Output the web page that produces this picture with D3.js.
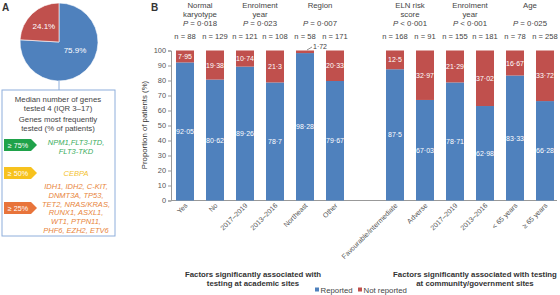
<!DOCTYPE html>
<html>
<head>
<meta charset="utf-8">
<script src="https://cdn.jsdelivr.net/npm/d3@7"></script>
<style>
  body { margin: 0; background: #fff; }
  svg { font-family: "Liberation Sans", Arial, sans-serif; }
</style>
</head>
<body>
<svg width="560" height="295"></svg>
<script>
// panel A
var pieNames = ["Reported", "Not reported"];
var pieValues = [75.9, 24.1];
var boxLines = ["Median number of genes", "tested 4 (IQR 3\u201317)", "Genes most frequently", "tested (% of patients)"];
var tagLabels = ["\u2265 75%", "\u2265 50%", "\u2265 25%"];
var tagGenes = [
  ["NPM1,FLT3-ITD,", "FLT3-TKD"],
  ["CEBPA"],
  ["IDH1, IDH2, C-KIT,", "DNMT3A, TP53,", "TET2, NRAS/KRAS,", "RUNX1, ASXL1,", "WT1, PTPN11,", "PHF6, EZH2, ETV6"]
];

// panel B
var categories = ["Yes", "No", "2017\u20132019", "2013\u20132016", "Northeast", "Other",
  "Favourable/intermediate", "Adverse", "2017\u20132019", "2013\u20132016", "< 65 years", "\u2265 65 years"];
var nValues = [88, 129, 121, 108, 58, 171, 168, 91, 155, 181, 78, 258];
var reported = [92.05, 80.62, 89.26, 78.7, 98.28, 79.67, 87.5, 67.03, 78.71, 62.98, 83.33, 66.28];
var notReported = [7.95, 19.38, 10.74, 21.3, 1.72, 20.33, 12.5, 32.97, 21.29, 37.02, 16.67, 33.72];
var factorTitles = [["Normal", "karyotype"], ["Enrolment", "year"], ["Region"], ["ELN risk", "score"], ["Enrolment", "year"], ["Age"]];
var pValues = ["= 0\u00b7018", "= 0\u00b7023", "= 0\u00b7007", "< 0\u00b7001", "< 0\u00b7001", "= 0\u00b7025"];
var yTicks = [0, 10, 20, 30, 40, 50, 60, 70, 80, 90, 100];

var blue = "#4f81bd", red = "#c0504d";
var svg = d3.select("svg");

function fmt(v) { return String(v).replace(".", "\u00b7"); }

// ---------- panel A ----------
svg.append("text").attr("x", 2).attr("y", 11).attr("font-size", 10).attr("font-weight", "bold").attr("fill", "#333").text("A");

var pieG = svg.append("g").attr("transform", "translate(59,42)");
var pie = d3.pie().sort(null)(pieValues);
var arc = d3.arc().innerRadius(0).outerRadius(39);
pieG.selectAll("path").data(pie).join("path")
  .attr("d", arc)
  .attr("fill", function (d, i) { return i == 0 ? blue : red; })
  .attr("stroke", "#fff").attr("stroke-width", 0.6);
var labelArc = d3.arc().innerRadius(22).outerRadius(22);
pieG.selectAll("text").data(pie).join("text")
  .attr("transform", function (d, i) {
    var c = labelArc.centroid(d);
    return i == 0 ? "translate(16,11)" : "translate(" + c[0] + "," + (c[1] + 3) + ")";
  })
  .attr("text-anchor", "middle").attr("font-size", 8).attr("fill", "#fff")
  .text(function (d) { return d.data + "%"; });

svg.append("line").attr("x1", 59).attr("x2", 59).attr("y1", 81).attr("y2", 90)
  .attr("stroke", "#8eaedb").attr("stroke-width", 1);
svg.append("rect").attr("x", 2).attr("y", 90).attr("width", 113).attr("height", 146)
  .attr("fill", "none").attr("stroke", "#8eaedb").attr("stroke-width", 1);

var boxY = [99, 107.5, 119, 127.5];
svg.selectAll(".box-line").data(boxLines).join("text")
  .attr("class", "box-line")
  .attr("x", 58).attr("y", function (d, i) { return boxY[i] + 3; })
  .attr("text-anchor", "middle").attr("font-size", 7.8).attr("fill", "#444")
  .text(function (d) { return d; });

var tagColors = ["#1fa24a", "#f7c21e", "#e8743b"];
var textColors = ["#3aad5d", "#f3c22e", "#e8843a"];
var tagCenters = [145, 173, 208];
var geneY = [[142, 151], [173], [186.5, 195.3, 204, 212.7, 221.4, 230]];

tagLabels.forEach(function (t, i) {
  var cy = tagCenters[i];
  svg.append("path")
    .attr("d", "M4," + (cy - 6) + "L31," + (cy - 6) + "L37," + cy + "L31," + (cy + 6) + "L4," + (cy + 6) + "Z")
    .attr("fill", tagColors[i]);
  svg.append("text").attr("x", 18).attr("y", cy + 2.6).attr("text-anchor", "middle")
    .attr("font-size", 7.2).attr("fill", "#fff").text(t);
  svg.selectAll(".gene" + i).data(tagGenes[i]).join("text")
    .attr("class", "gene" + i)
    .attr("x", 76).attr("y", function (d, j) { return geneY[i][j] + 2.6; })
    .attr("text-anchor", "middle").attr("font-size", 7.5).attr("font-style", "italic")
    .attr("fill", textColors[i]).text(function (d) { return d; });
});

// ---------- panel B ----------
svg.append("text").attr("x", 151).attr("y", 11).attr("font-size", 10).attr("font-weight", "bold").attr("fill", "#333").text("B");

// 12 bars + 1 empty slot between the two groups
var slot = function (i) { return i < 6 ? i : i + 1; };
var x = d3.scaleBand().domain(d3.range(13)).range([170, 560]).paddingInner(0.4).paddingOuter(0.2);
var y = d3.scaleLinear().domain([0, 100]).range([200.5, 50.5]);
var cx = function (i) { return x(slot(i)) + x.bandwidth() / 2; };

var yAxis = svg.append("g").attr("transform", "translate(171,0)")
  .call(d3.axisLeft(y).tickValues(yTicks).tickSize(3).tickPadding(2));
yAxis.select(".domain").attr("stroke", "#999");
yAxis.selectAll(".tick line").attr("stroke", "#999");
yAxis.selectAll(".tick text").attr("font-size", 7.4).attr("fill", "#555").attr("font-family", "Liberation Sans, Arial, sans-serif");

svg.append("line").attr("x1", 171).attr("x2", 557).attr("y1", y(0)).attr("y2", y(0))
  .attr("stroke", "#999").attr("stroke-width", 1);

svg.append("text").attr("transform", "translate(147,125)rotate(-90)")
  .attr("text-anchor", "middle").attr("font-size", 7.8).attr("fill", "#333")
  .text("Proportion of patients (%)");

var bars = svg.append("g").selectAll("g").data(categories).join("g");
bars.append("rect")
  .attr("x", function (d, i) { return x(slot(i)); })
  .attr("width", x.bandwidth())
  .attr("y", function (d, i) { return y(reported[i]); })
  .attr("height", function (d, i) { return y(0) - y(reported[i]); })
  .attr("fill", blue);
bars.append("rect")
  .attr("x", function (d, i) { return x(slot(i)); })
  .attr("width", x.bandwidth())
  .attr("y", y(100))
  .attr("height", function (d, i) { return y(reported[i]) - y(100); })
  .attr("fill", red);

bars.append("text")
  .attr("x", function (d, i) { return cx(i); })
  .attr("y", function (d, i) { return (y(0) + y(reported[i])) / 2 + 2.5; })
  .attr("text-anchor", "middle").attr("font-size", 7).attr("fill", "#fff")
  .text(function (d, i) { return fmt(reported[i]); });

// red labels (inside the bar, or above it with a leader when the segment is too thin)
bars.each(function (d, i) {
  var g = d3.select(this);
  var thin = notReported[i] < 5;
  if (thin) {
    g.append("line").attr("x1", cx(i) + 2).attr("y1", y(100) - 0.5)
      .attr("x2", cx(i) + 7).attr("y2", y(100) - 3.5)
      .attr("stroke", "#444").attr("stroke-width", 0.6);
  }
  g.append("text")
    .attr("x", thin ? cx(i) + 15 : cx(i))
    .attr("y", thin ? y(100) - 1.5 : (y(100) + y(reported[i])) / 2 + 2.5)
    .attr("text-anchor", "middle").attr("font-size", 7)
    .attr("fill", thin ? "#444" : "#fff")
    .text(fmt(notReported[i]));
});

// n labels
svg.selectAll(".nlab").data(nValues).join("text").attr("class", "nlab")
  .attr("x", function (d, i) { return cx(i); }).attr("y", 39)
  .attr("text-anchor", "middle").attr("font-size", 7.6).attr("fill", "#444")
  .text(function (d) { return "n = " + d; });

// factor titles
factorTitles.forEach(function (lines, g) {
  var mx = (cx(2 * g) + cx(2 * g + 1)) / 2;
  lines.forEach(function (l, j) {
    svg.append("text").attr("x", mx).attr("y", 8 + j * 9)
      .attr("text-anchor", "middle").attr("font-size", 7.8).attr("fill", "#444").text(l);
  });
  var pt = svg.append("text").attr("x", mx).attr("y", 26)
    .attr("text-anchor", "middle").attr("font-size", 7.8).attr("fill", "#444");
  pt.append("tspan").attr("font-style", "italic").text("P");
  pt.append("tspan").text(" " + pValues[g]);
});

// rotated category labels
svg.selectAll(".xlab").data(categories).join("text").attr("class", "xlab")
  .attr("transform", function (d, i) { return "translate(" + (cx(i) + 3) + ",206)rotate(-45)"; })
  .attr("text-anchor", "end").attr("font-size", 7).attr("fill", "#555")
  .text(function (d) { return d; });

// group captions
var capLeft = ["Factors significantly associated with", "testing at academic sites"];
var capRight = ["Factors significantly associated with testing", "at community/government sites"];
[[capLeft, 253], [capRight, 475]].forEach(function (c) {
  c[0].forEach(function (l, j) {
    svg.append("text").attr("x", c[1]).attr("y", 277 + j * 8.5)
      .attr("text-anchor", "middle").attr("font-size", 7.8).attr("font-weight", "bold")
      .attr("fill", "#333").text(l);
  });
});

// legend
var leg = svg.append("g").attr("transform", "translate(315,293)");
pieNames.forEach(function (n, i) {
  var lx = i == 0 ? 0 : 43;
  leg.append("rect").attr("x", lx).attr("y", -5.5).attr("width", 4).attr("height", 4).attr("fill", i == 0 ? blue : red);
  leg.append("text").attr("x", lx + 5.5).attr("y", 0).attr("font-size", 7.8).attr("fill", "#444").text(n);
});
</script>
</body>
</html>
